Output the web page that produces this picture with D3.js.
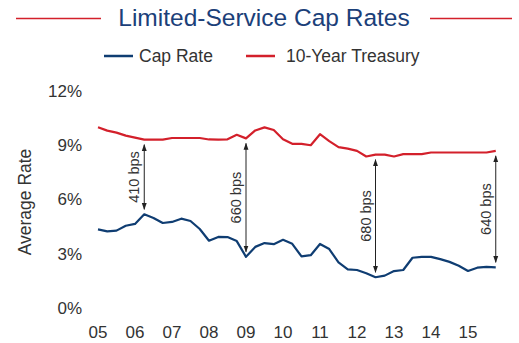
<!DOCTYPE html>
<html>
<head>
<meta charset="utf-8">
<script src="https://cdnjs.cloudflare.com/ajax/libs/d3/7.8.5/d3.min.js"></script>
<style>
  body { margin: 0; background: #fff; }
  svg { display: block; font-family: "Liberation Sans", Arial, Helvetica, sans-serif; }
</style>
</head>
<body>
<svg id="chart" width="519" height="343"></svg>
<script>
// quarterly values, 2005 Q1 .. 2015 Q4
const capRate = [
  4.35, 4.24, 4.28, 4.55, 4.65, 5.18, 4.98, 4.70, 4.76, 4.94, 4.81, 4.37,
  3.72, 3.93, 3.92, 3.70, 2.83, 3.38, 3.59, 3.53, 3.77, 3.55, 2.85, 2.92,
  3.54, 3.26, 2.52, 2.14, 2.10, 1.92, 1.70, 1.79, 2.04, 2.10, 2.78, 2.83,
  2.83, 2.70, 2.55, 2.34, 2.05, 2.23, 2.27, 2.25
];
const treasury = [
  10.00, 9.81, 9.70, 9.53, 9.42, 9.31, 9.31, 9.31, 9.40, 9.40, 9.40, 9.40,
  9.32, 9.31, 9.33, 9.58, 9.38, 9.82, 9.99, 9.84, 9.33, 9.08, 9.08, 9.00,
  9.61, 9.23, 8.90, 8.81, 8.69, 8.38, 8.48, 8.48, 8.38, 8.51, 8.51, 8.51,
  8.60, 8.60, 8.60, 8.60, 8.60, 8.60, 8.60, 8.69
];
const startYear = 2005;
const yearLabels = ["05", "06", "07", "08", "09", "10", "11", "12", "13", "14", "15"];
const yTicks = [0, 3, 6, 9, 12];
const spreadIdx = [5, 16, 30, 43];
const spreadLabels = ["410 bps", "660 bps", "680 bps", "640 bps"];

const blue = "#0f3d72";
const red = "#d3202b";
const textColor = "#333";

const svg = d3.select("#chart");

const x = d3.scaleLinear().domain([2005, 2015]).range([98, 468]);
const y = d3.scaleLinear().domain([0, 12]).range([308, 91]);
const xAt = i => x(startYear + i / 4);

// title
svg.append("text")
    .attr("x", 264).attr("y", 26)
    .attr("text-anchor", "middle")
    .style("font-size", "24.5px")
    .attr("fill", "#1b4079")
    .text("Limited-Service Cap Rates");
svg.append("line").attr("x1", 16).attr("x2", 101).attr("y1", 18.5).attr("y2", 18.5)
    .attr("stroke", red).attr("stroke-width", 1.3);
svg.append("line").attr("x1", 430).attr("x2", 512).attr("y1", 18.5).attr("y2", 18.5)
    .attr("stroke", red).attr("stroke-width", 1.3);

// legend
const legend = [
  { name: "Cap Rate", color: blue, x: 104, tx: 139 },
  { name: "10-Year Treasury", color: red, x: 246, tx: 286 }
];
legend.forEach(d => {
  svg.append("line")
      .attr("x1", d.x).attr("x2", d.x + 29).attr("y1", 56).attr("y2", 56)
      .attr("stroke", d.color).attr("stroke-width", 2.5);
  svg.append("text")
      .attr("x", d.tx).attr("y", 62)
      .style("font-size", "17.5px")
      .attr("fill", textColor)
      .text(d.name);
});

// y axis labels
svg.append("g").selectAll("text")
    .data(yTicks)
    .enter().append("text")
    .attr("x", 82)
    .attr("y", d => y(d))
    .attr("dy", "0.35em")
    .attr("text-anchor", "end")
    .style("font-size", "17px")
    .attr("fill", textColor)
    .text(d => d + "%");

svg.append("text")
    .attr("transform", "translate(31,202) rotate(-90)")
    .attr("text-anchor", "middle")
    .style("font-size", "17.5px")
    .attr("fill", textColor)
    .text("Average Rate");

// x axis labels
svg.append("g").selectAll("text")
    .data(yearLabels)
    .enter().append("text")
    .attr("x", (d, i) => x(startYear + i))
    .attr("y", 338)
    .attr("text-anchor", "middle")
    .style("font-size", "17px")
    .attr("fill", textColor)
    .text(d => d);

// lines
const line = d3.line()
    .x((d, i) => xAt(i))
    .y(d => y(d));

svg.append("path")
    .attr("d", line(treasury))
    .attr("fill", "none")
    .attr("stroke", red)
    .attr("stroke-width", 2.2)
    .attr("stroke-linejoin", "round");

svg.append("path")
    .attr("d", line(capRate))
    .attr("fill", "none")
    .attr("stroke", blue)
    .attr("stroke-width", 2.2)
    .attr("stroke-linejoin", "round");

// spread arrows
svg.append("defs").append("marker")
    .attr("id", "arrow")
    .attr("viewBox", "0 0 10 10")
    .attr("refX", 9).attr("refY", 5)
    .attr("markerWidth", 7).attr("markerHeight", 7)
    .attr("markerUnits", "userSpaceOnUse")
    .attr("orient", "auto-start-reverse")
    .append("path")
    .attr("d", "M0,1.5L10,5L0,8.5Z")
    .attr("fill", "#222");

spreadIdx.forEach((idx, k) => {
  const ax = xAt(idx);
  const top = y(treasury[idx]) + 5;
  const bottom = y(capRate[idx]) - 5;
  svg.append("line")
      .attr("x1", ax).attr("x2", ax)
      .attr("y1", top).attr("y2", bottom)
      .attr("stroke", "#222")
      .attr("stroke-width", 1)
      .attr("marker-start", "url(#arrow)")
      .attr("marker-end", "url(#arrow)");
  svg.append("text")
      .attr("transform", `translate(${ax - 5},${(top + bottom) / 2}) rotate(-90)`)
      .attr("text-anchor", "middle")
      .style("font-size", "14.5px")
      .attr("fill", textColor)
      .text(spreadLabels[k]);
});
</script>
</body>
</html>
